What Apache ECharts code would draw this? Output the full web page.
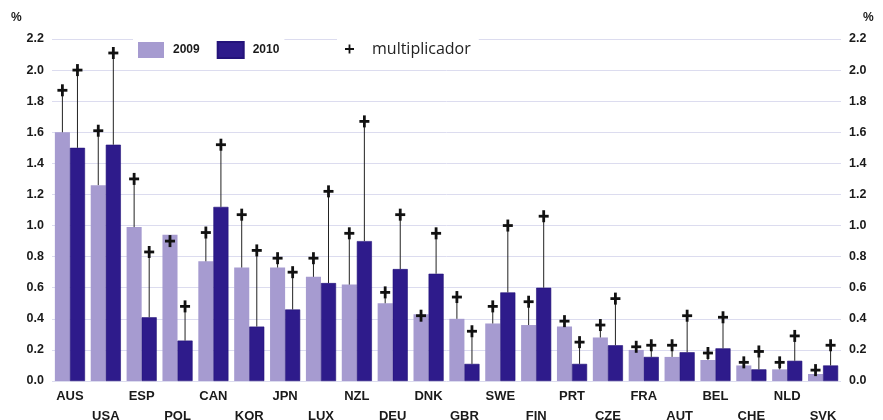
<!DOCTYPE html>
<html>
<head>
<meta charset="utf-8">
<script src="https://cdn.jsdelivr.net/npm/echarts@6/dist/echarts.min.js"></script>
<style>html,body{margin:0;padding:0;background:#fff;}#c{width:883px;height:420px;}</style>
</head>
<body>
<div id="c"></div>
<script>
const categories = ['AUS','USA','ESP','POL','CAN','KOR','JPN','LUX','NZL','DEU','DNK','GBR','SWE','FIN','PRT','CZE','FRA','AUT','BEL','CHE','NLD','SVK'];
const values2009 = [1.60,1.26,0.99,0.94,0.77,0.73,0.73,0.67,0.62,0.50,0.43,0.40,0.37,0.36,0.35,0.28,0.20,0.155,0.135,0.10,0.075,0.045];
const values2010 = [1.50,1.52,0.41,0.26,1.12,0.35,0.46,0.63,0.90,0.72,0.69,0.11,0.57,0.60,0.11,0.23,0.155,0.185,0.21,0.075,0.13,0.10];
const mult2009 = [1.87,1.61,1.30,0.90,0.955,1.07,0.79,0.79,0.95,0.57,0.42,0.54,0.48,0.51,0.385,0.36,0.22,0.23,0.18,0.12,0.12,0.07];
const mult2010 = [2.00,2.11,0.83,0.48,1.52,0.84,0.70,1.22,1.67,1.07,0.95,0.32,1.00,1.06,0.25,0.53,0.23,0.42,0.41,0.19,0.29,0.23];
const yTicks = {min: 0, max: 2.2, interval: 0.2};

const BAR_FRAC = 0.42;
const font = 'Liberation Sans, Arial, sans-serif';
const plusPath = 'path://M4,0H6V4H10V6H6V10H4V6H0V4H4Z';

function multRender(side) {
  return function (params, api) {
    const idx = api.value(0);
    const band = api.size([1, 0])[0];
    const cx = api.coord([idx, 0])[0] + side * band * BAR_FRAC / 2;
    const yb = api.coord([idx, api.value(1)])[1];
    const ym = api.coord([idx, api.value(2)])[1];
    const children = [];
    if (ym < yb) {
      children.push({type: 'line', shape: {x1: cx, y1: yb, x2: cx, y2: ym}, style: {stroke: '#222', lineWidth: 1}});
    }
    children.push({type: 'line', shape: {x1: cx - 5, y1: ym, x2: cx + 5, y2: ym}, style: {stroke: '#111', lineWidth: 2.8}});
    children.push({type: 'line', shape: {x1: cx, y1: ym - 6, x2: cx, y2: ym + 6}, style: {stroke: '#111', lineWidth: 2.8}});
    return {type: 'group', children: children};
  };
}

const chart = echarts.init(document.getElementById('c'));
const yAxisCommon = {
  type: 'value', min: yTicks.min, max: yTicks.max, interval: yTicks.interval,
  axisLine: {show: false}, axisTick: {show: false},
  axisLabel: {formatter: v => v.toFixed(1), color: '#1a1a1a', fontWeight: 'bold', fontSize: 12.5, fontFamily: font}
};
chart.setOption({
  animation: false,
  backgroundColor: '#fff',
  grid: {left: 52, right: 42, top: 39, bottom: 39, outerBoundsMode: 'none', containLabel: false},
  graphic: [
    {type: 'text', left: 11, top: 12, style: {text: '%', font: 'bold 12px ' + font, fill: '#1a1a1a'}},
    {type: 'text', left: 863, top: 12, style: {text: '%', font: 'bold 12px ' + font, fill: '#1a1a1a'}}
  ],
  legend: [
    {
      data: ['2009', '2010'], left: 133, top: 37, padding: [4, 5], itemGap: 17,
      itemWidth: 26, itemHeight: 16, icon: 'rect', backgroundColor: '#fff',
      textStyle: {fontWeight: 'bold', fontSize: 12, fontFamily: font, color: '#1a1a1a', padding: [0, 0, 0, 4]}
    },
    {
      data: [{name: 'multiplicador', icon: plusPath, itemStyle: {color: '#111'}}],
      left: 337, top: 37, padding: [4, 8], itemWidth: 9, itemHeight: 9, backgroundColor: '#fff',
      textStyle: {fontSize: 16, fontFamily: 'Open Sans, sans-serif', color: '#222', padding: [0, 0, 0, 13]}
    }
  ],
  xAxis: {
    type: 'category', data: categories,
    axisLine: {show: false}, axisTick: {show: false},
    axisLabel: {
      interval: 0, margin: 5, color: '#1a1a1a', fontWeight: 'bold', fontSize: 13, fontFamily: font, lineHeight: 20,
      formatter: (v, i) => (i % 2 === 1 ? '\n' + v : v)
    }
  },
  yAxis: [
    Object.assign({}, yAxisCommon, {position: 'left', splitLine: {lineStyle: {color: '#dcdcef', width: 1}}, axisLabel: Object.assign({}, yAxisCommon.axisLabel, {margin: 8})}),
    Object.assign({}, yAxisCommon, {position: 'right', splitLine: {show: false}, axisLabel: Object.assign({}, yAxisCommon.axisLabel, {margin: 8})})
  ],
  series: [
    {name: '2009', type: 'bar', data: values2009, barWidth: (BAR_FRAC * 100) + '%', barGap: '0%', itemStyle: {color: '#a69bd0'}},
    {name: '2010', type: 'bar', data: values2010, barWidth: (BAR_FRAC * 100) + '%', barGap: '0%', itemStyle: {color: '#2e1b8b', borderColor: '#24137a', borderWidth: 0.6}},
    {name: 'multiplicador', type: 'custom', renderItem: multRender(-1), itemStyle: {color: '#111'}, z: 5,
     data: categories.map((c, i) => [i, values2009[i], mult2009[i]])},
    {name: 'multiplicador', type: 'custom', renderItem: multRender(1), itemStyle: {color: '#111'}, z: 5,
     data: categories.map((c, i) => [i, values2010[i], mult2010[i]])}
  ]
});
</script>
</body>
</html>
